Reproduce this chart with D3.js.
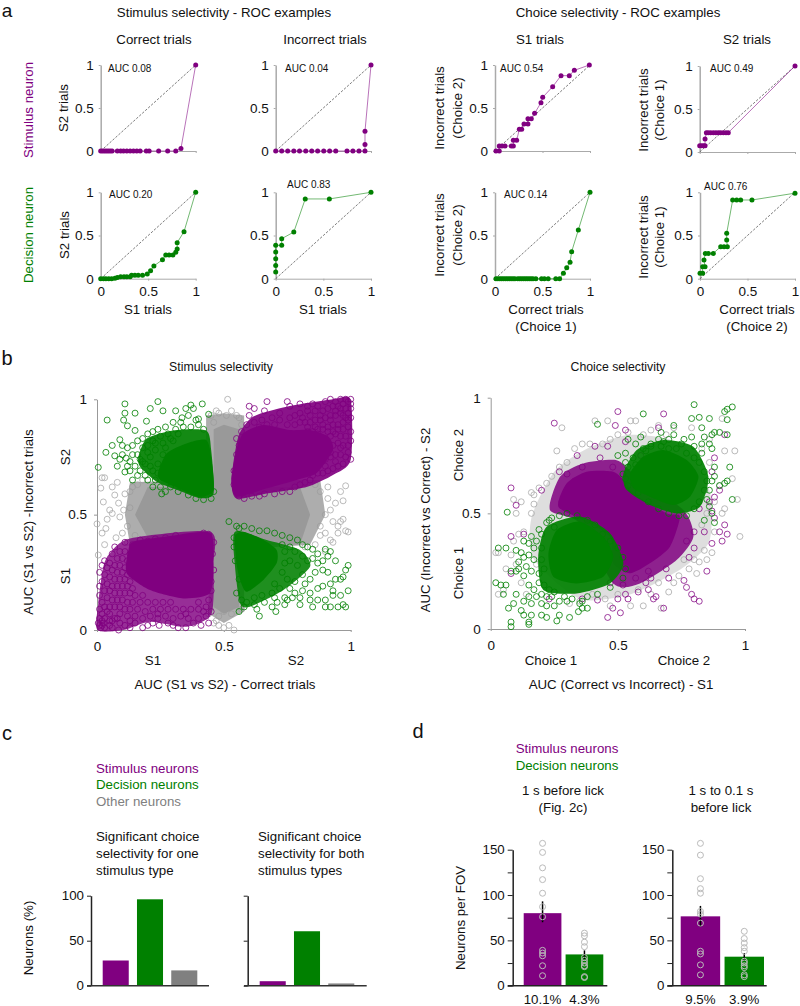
<!DOCTYPE html>
<html>
<head>
<meta charset="utf-8">
<script src="https://cdn.jsdelivr.net/npm/d3@7"></script>
<style>
body { margin: 0; background: #fff; }
svg { display: block; }
text { font-family: "Liberation Sans", Arial, sans-serif; fill: #111; }
</style>
</head>
<body>
<svg width="800" height="1006"></svg>
<script>
var PURPLE = "#800080", GREEN = "#008000", GREY = "#999999";

// panel a: ROC curves
var rocStimCorrect = [[0,0],[.02,0],[.04,0],[.06,0],[.08,0],[.1,0],[.12,0],[.175,0],[.21,0],[.24,0],[.275,0],[.31,0],[.345,0],[.38,0],[.415,0],[.48,0],[.51,0],[.61,0],[.705,0],[.79,0],[.845,.03],[1,1]];
var rocStimIncorrect = [[0,0],[.063,0],[.126,0],[.19,0],[.25,0],[.315,0],[.378,0],[.44,0],[.504,0],[.566,0],[.63,0],[.748,0],[.81,0],[.874,0],[.937,0],[.937,.075],[.937,.23],[1,1]];
var rocDecCorrect = [[0,0],[.03,0],[.055,0],[.085,0],[.115,0],[.15,.004],[.175,.015],[.21,.023],[.245,.023],[.275,.023],[.31,.023],[.325,.039],[.36,.039],[.395,.039],[.44,.039],[.49,.054],[.525,.093],[.56,.147],[.65,.22],[.685,.274],[.72,.274],[.76,.274],[.79,.305],[.805,.344],[.805,.417],[.877,.544],[1,1]];
var rocDecIncorrect = [[0,.077],[0,.154],[0,.23],[0,.31],[0,.386],[.063,.386],[.063,.463],[.19,.54],[.31,.923],[.563,.923],[1,1]];
var rocStimS1 = [[.01,0],[.045,0],[.045,.058],[.073,.058],[.105,.058],[.172,.058],[.193,.058],[.193,.124],[.228,.124],[.256,.252],[.281,.252],[.305,.314],[.347,.314],[.347,.376],[.382,.376],[.417,.438],[.484,.562],[.502,.624],[.607,.748],[.695,.876],[.782,.876],[.835,.938],[.993,1]];
var rocStimS2 = [[0,.074],[.02,.074],[.04,.074],[.056,.074],[.056,.15],[.07,.225],[.09,.225],[.115,.225],[.143,.225],[.17,.225],[.196,.225],[.22,.225],[.248,.225],[.276,.225],[.3,.225],[1,1]];
var rocDecS1 = [[.01,0],[.03,0],[.05,0],[.07,0],[.09,0],[.11,0],[.13,0],[.15,0],[.17,0],[.19,0],[.21,0],[.24,0],[.26,0],[.28,0],[.3,0],[.32,0],[.34,0],[.36,0],[.38,0],[.4,0],[.43,0],[.49,0],[.52,0],[.56,0],[.64,0],[.68,0],[.72,.062],[.755,.127],[.79,.19],[.807,.313],[.877,.564],[1,1]];
var rocDecS2 = [[0,.062],[.028,.062],[.028,.139],[.053,.139],[.042,.216],[.056,.293],[.088,.293],[.14,.293],[.218,.371],[.253,.371],[.288,.371],[.281,.448],[.281,.525],[.344,.911],[.386,.911],[.428,.911],[.547,.911],[1,.99]];

// panel b left: filled regions where the rings merge, then single rings
var stimGreySolid = [[.46,.87],[.5,.89],[.56,.87],[.56,.62],[.8,.62],[.84,.5],[.8,.37],[.56,.37],[.56,.1],[.5,.07],[.46,.1],[.46,.4],[.2,.4],[.15,.5],[.2,.62],[.46,.62]];
var stimGreyHaze = [[.43,.93],[.5,.94],[.58,.93],[.58,.65],[.88,.65],[.9,.5],[.84,.37],[.58,.35],[.58,.08],[.5,.03],[.44,.07],[.44,.37],[.13,.37],[.11,.5],[.13,.64],[.43,.65]];
var stimPurpleURSolid = [[.55,.78],[.577,.853],[.656,.889],[.76,.867],[.84,.867],[.912,.838],[.93,.78],[.866,.68],[.787,.65],[.67,.614],[.55,.578],[.53,.65]];
var stimPurpleURHaze = [[.557,.838],[.616,.925],[.748,.968],[.93,1],[1,.997],[1,.737],[.93,.672],[.826,.62],[.669,.592],[.55,.57],[.53,.65]];
var stimGreenULSolid = [[.24,.68],[.275,.766],[.355,.81],[.43,.824],[.45,.75],[.46,.607],[.405,.578],[.315,.618],[.25,.65]];
var stimGreenULHaze = [[.163,.75],[.196,.83],[.3,.865],[.43,.865],[.45,.78],[.46,.593],[.405,.572],[.315,.608],[.235,.643],[.17,.708]];
var stimPurpleLLSolid = [[.124,.347],[.143,.383],[.275,.405],[.445,.422],[.459,.289],[.445,.159],[.34,.137],[.209,.173],[.117,.246]];
var stimPurpleLLHaze = [[.005,.116],[.025,.275],[.05,.332],[.13,.397],[.445,.426],[.459,.289],[.452,.072],[.353,.014],[.209,.036],[.104,0],[.002,0]];
var stimGreenLRSolid = [[.544,.405],[.577,.426],[.656,.39],[.708,.347],[.708,.289],[.656,.217],[.59,.166],[.564,.217],[.55,.289]];
var stimGreenLRHaze = [[.544,.426],[.669,.39],[.8,.347],[.84,.275],[.735,.173],[.603,.101],[.564,.116],[.544,.275]];

var stimGreyRings = [[.02,.66],[.03,.66],[.015,.615],[.08,.64],[.07,.585],[.025,.555],[0,.46],[.035,.44],[.02,.42],[.075,.4],[.005,.325],[.06,.505],[.04,.48],[.105,.52],[.11,.59],[.13,.6],[.09,.49],[.12,.45],[.1,.42],[.14,.62],[.16,.63],[.18,.65],[.05,.52],[.085,.55],[.13,.53],[.06,.62],[.15,.41],[.12,.38],[.03,.37],
[.98,.625],[.99,.425],[.98,.43],[.92,.39],[.93,.38],[.95,.45],[.96,.47],[.97,.48],[.9,.42],[.88,.41],[.94,.55],[.97,.56],[.96,.6],[.91,.62],[.88,.6],[.9,.5],[.92,.52],[.86,.63],[.84,.65],[.88,.45],[.93,.47],[.82,.36],[.86,.37],[.9,.34],[.95,.42],[.91,.57],
[.515,1],[.47,.95],[.48,.94],[.51,.93],[.55,.93],[.56,.92],[.45,.93],[.53,.95],[.46,.9],[.57,.89],
[.48,.02],[.47,.04],[.5,.01],[.52,.02],[.54,0],[.46,.03],[.48,.06],[.53,.07],[.44,.07],[.5,.08],[.57,.09],[.45,.1],[.55,.12]];

var stimPurpleURRings = [[.6,.97],[.62,.96],[.67,.99],[.66,.95],[.75,.99],[.76,.97],[.72,.94],[.8,.98],[.83,.97],[.85,.98],[.87,.97],[.9,.99],[.92,1],[.94,.99],[.96,1],[.98,1],[1,1],[.99,.99],[1,.98],[.97,.98],[.95,.97],[.93,.97],[.91,.96],[.89,.95],[.86,.95],[.83,.95],[.8,.94],[.78,.93],[.76,.92],[.72,.91],[.69,.92],[.65,.91],[.62,.9],[.59,.89],[.57,.86],[.55,.83],[.56,.8],[.6,.93],
[1,.96],[.99,.94],[1,.92],[.98,.92],[.96,.94],[.94,.93],[.92,.93],[.9,.92],[.88,.91],[.86,.91],[.84,.9],[.82,.9],[.8,.9],[.97,.9],[.99,.88],[1,.86],[.97,.87],[.95,.89],[.93,.89],[.91,.88],[.89,.87],[.87,.87],[.85,.86],[.83,.86],[.98,.84],[1,.82],[.96,.84],[.94,.85],[.92,.84],[.9,.83],[.88,.82],[.86,.81],[.99,.8],[.97,.8],[.95,.81],[.93,.8],[.91,.79],[.89,.78],[.87,.77],[1,.74],[.98,.75],[.99,.77],[.96,.76],[.94,.76],[.92,.75],[.9,.74],[.88,.73],[.86,.72],[.97,.72],[.95,.71],[.93,.7],[.91,.69],[.89,.68],[.87,.68],[.85,.67],[.84,.65],[.82,.64],[.8,.63],[.78,.62],[.76,.6],[.73,.6],[.7,.59],[.66,.59],[.64,.58],[.61,.58],[.58,.57],[.56,.58],[.55,.6],[.54,.63],[.55,.66],[.54,.69],[.56,.72],[.55,.76],
[.98,.96],[.96,.96],[.94,.95],[.92,.91],[.88,.93],[.84,.93],[.81,.92],[.99,.91],[.97,.93],[.89,.89],[.86,.88],[.83,.88],[.95,.87],[.93,.86],[.91,.86],[.96,.79],[.92,.77],[.85,.83],[.87,.85],[.89,.8],[.94,.73],[.9,.71],[.86,.7],[.82,.84],[.78,.89],[.75,.89],[.7,.89],[.67,.89],[.64,.88]];

var stimGreenULRings = [[.11,.98],[.24,.99],[.21,.96],[.26,.95],[.31,.95],[.37,.975],[.415,.98],[.35,.96],[.11,.94],[.15,.94],[.105,.91],[.12,.885],[.15,.865],[.04,.91],[.195,.905],[.335,.92],[.4,.915],[.44,.935],[.06,.8],[.09,.825],[.005,.705],[.035,.77],[.07,.755],[.115,.745],[.08,.71],[.11,.685],[.14,.65],[.255,.59],
[.36,.93],[.39,.91],[.38,.96],[.33,.9],[.3,.9],[.27,.88],[.24,.87],[.22,.86],[.2,.85],[.18,.83],[.16,.82],[.14,.8],[.12,.79],[.1,.8],[.1,.76],[.13,.73],[.15,.71],[.12,.71],[.16,.76],[.18,.79],[.2,.8],[.22,.82],[.25,.84],[.28,.85],[.31,.87],[.34,.88],[.37,.88],[.4,.89],[.42,.87],
[.17,.69],[.19,.72],[.21,.75],[.23,.78],[.26,.81],[.29,.83],[.32,.85],[.19,.67],[.22,.69],[.24,.72],[.16,.67],[.2,.65],[.23,.65],[.26,.66],[.29,.62],[.32,.6],[.36,.585],[.39,.57],[.42,.565],[.45,.57],[.46,.6],[.25,.62],[.27,.6],[.22,.62],[.18,.73],[.14,.76],[.17,.74],[.2,.77],[.23,.81],[.27,.79],[.3,.82],[.21,.71],[.13,.69],[.09,.74],[.27,.7],[.24,.68],[.26,.76]];

var stimPurpleLLRings = [[.01,.02],[.015,.01],[.02,.02],[.005,.03],[.025,.03],[.01,.05],[.03,.01],[.03,.05],[.05,.02],[.06,.01],[.085,0],[.09,.03],[.11,.02],[.13,.01],[.15,.03],[.18,.01],[.2,.02],[.22,.03],[.245,.02],[.28,.03],[.3,.02],[.32,.01],[.35,.01],[.38,.03],[.41,.02],[.44,.03],[.43,.06],[.4,.05],[.36,.05],[.33,.06],[.3,.05],[.27,.06],[.24,.05],[.21,.06],[.18,.05],[.15,.06],[.12,.06],[.09,.07],[.07,.05],[.05,.07],[.02,.07],[.01,.09],[.03,.1],[.05,.1],[.07,.1],[.09,.1],[.11,.09],[.13,.09],[.16,.09],[.19,.08],[.22,.09],[.25,.09],[.28,.09],[.31,.09],[.34,.09],[.37,.09],[.4,.09],[.43,.1],[.45,.08],
[.02,.12],[.01,.15],[.04,.14],[.06,.13],[.08,.13],[.1,.13],[.12,.12],[.14,.12],[.17,.12],[.2,.12],[.23,.12],[.26,.12],[.29,.12],[.4,.12],[.44,.13],[.45,.17],[.03,.17],[.05,.17],[.07,.16],[.09,.16],[.11,.16],[.13,.16],[.15,.15],[.18,.15],[.01,.19],[.02,.21],[.04,.2],[.06,.19],[.08,.19],[.1,.19],[.12,.19],[.14,.18],[.03,.24],[.05,.23],[.07,.22],[.09,.22],[.11,.22],[.13,.21],[.01,.25],[.02,.28],[.04,.27],[.06,.26],[.08,.25],[.1,.25],[.12,.24],[.03,.3],[.05,.29],[.07,.28],[.09,.28],[.11,.27],[.13,.27],[.06,.33],[.08,.31],[.1,.31],[.12,.3],[.14,.3],[.07,.36],[.09,.34],[.11,.34],[.13,.33],[.11,.38],[.14,.37],[.17,.39],[.2,.385],[.23,.395],[.27,.4],[.31,.41],[.35,.4],[.39,.405],[.42,.42],[.44,.415],[.46,.38],[.455,.33],[.46,.26],[.45,.21],[.16,.35],[.17,.31],[.15,.26],[.18,.22],[.05,.04],[.13,.04],[.24,.07],[.35,.07],[.42,.08],[.02,.04],[.04,.08],[.06,.04],[.08,.05]];

var stimGreenLRRings = [[.52,.47],[.55,.45],[.56,.44],[.54,.4],[.64,.06],[.705,.08],[.56,.08],[.58,.1],[.63,.09],[.69,.1],[.71,.12],[.74,.11],[.75,.13],[.8,.11],[.85,.1],[.9,.1],[.92,.1],[.95,.1],[.97,.11],[.98,.1],[.9,.13],[.87,.13],[.84,.13],[.8,.14],[.77,.14],[.93,.15],[.96,.15],[.99,.17],[.98,.26],[.99,.28],[.97,.23],[.94,.22],[.96,.22],[.92,.2],[.93,.17],[.89,.19],[.87,.18],[.84,.16],[.81,.17],[.78,.16],[.74,.14],[.7,.14],[.66,.12],[.62,.11],[.59,.12],
[.91,.32],[.92,.34],[.9,.35],[.94,.3],[.89,.3],[.87,.33],[.85,.35],[.83,.36],[.81,.37],[.79,.39],[.76,.4],[.73,.41],[.7,.42],[.67,.43],[.64,.43],[.61,.44],[.58,.45],[.85,.31],[.87,.29],[.89,.26],[.91,.25],[.86,.25],[.83,.3],[.81,.32],[.78,.34],[.76,.36],[.73,.37],[.84,.22],[.81,.24],[.82,.2],[.79,.28],[.76,.3],[.74,.34],[.78,.21],[.75,.22],[.76,.18],[.72,.18],[.73,.25],[.74,.29],[.69,.16],[.65,.15],[.62,.14],[.7,.2],[.57,.13],[.55,.16],[.56,.22],[.545,.3],[.54,.36]];

// panel b right
var choiceGreyHaze = [[.16,.48],[.25,.68],[.38,.78],[.55,.84],[.75,.8],[.86,.6],[.86,.38],[.75,.26],[.55,.15],[.35,.13],[.17,.3]];
var choicePurpleSolid = [[.266,.529],[.299,.63],[.377,.68],[.482,.68],[.535,.63],[.561,.586],[.692,.5],[.744,.486],[.705,.356],[.626,.284],[.548,.241],[.482,.284],[.469,.399],[.364,.471]];
var choicePurpleHaze = [[.233,.514],[.273,.659],[.364,.716],[.495,.73],[.561,.673],[.758,.514],[.797,.399],[.731,.298],[.587,.197],[.482,.197],[.351,.457]];
var choiceGreenLowSolid = [[.227,.327],[.26,.428],[.351,.464],[.443,.399],[.482,.313],[.443,.226],[.338,.197],[.246,.226]];
var choiceGreenLowHaze = [[.187,.313],[.22,.442],[.351,.486],[.469,.414],[.522,.284],[.469,.197],[.338,.154],[.207,.169]];
var choiceGreenUpSolid = [[.548,.673],[.6,.745],[.679,.774],[.771,.731],[.817,.659],[.784,.572],[.718,.536],[.626,.572],[.561,.608]];
var choiceGreenUpHaze = [[.522,.673],[.574,.774],[.679,.817],[.797,.788],[.856,.659],[.823,.529],[.731,.5],[.626,.536],[.535,.601]];

var choiceGreyRings = [[.03,.33],[.02,.33],[.1,.5],[.09,.56],[.12,.55],[.16,.59],[.17,.58],[.19,.61],[.22,.63],[.24,.66],[.27,.7],[.3,.72],[.33,.78],[.36,.8],[.39,.8],[.41,.9],[.28,.87],[.26,.77],[.17,.54],[.16,.5],[.13,.42],[.11,.41],[.09,.38],[.08,.32],[.06,.26],[.05,.17],[.03,.15],[.12,.2],[.14,.15],[.1,.28],[.18,.28],
[.46,.9],[.55,.9],[.57,.9],[.6,.84],[.63,.86],[.66,.88],[.69,.84],[.72,.87],[.79,.87],[.54,.85],[.5,.84],[.47,.82],[.44,.8],
[.91,.91],[.86,.82],[.92,.77],[.96,.77],[.95,.65],[.9,.62],[.97,.56],[.92,.52],[.91,.5],[.98,.4],[.88,.42],[.87,.33],[.82,.29],[.81,.24],[.84,.34],[.85,.3],[.8,.3],[.78,.26],[.74,.23],[.72,.2],[.7,.16],[.67,.09],[.6,.1],[.55,.1],[.5,.15],[.45,.13],[.4,.15],[.35,.12],[.31,.11],[.47,.1],[.52,.2],[.58,.17],[.63,.15],[.66,.2],[.76,.3],[.83,.45],[.85,.5],[.88,.55],[.86,.72],[.83,.78]];

var choicePurpleRings = [[.25,.89],[.5,.94],[.68,.93],[.49,.88],[.53,.86],[.66,.87],[.46,.79],[.34,.75],[.41,.79],[.27,.68],[.2,.6],[.08,.61],[.1,.535],[.08,.4],[.13,.41],[.08,.24],[.23,.13],[.36,.13],[.42,.125],[.47,.2],[.46,.05],[.51,.07],[.48,.09],[.5,.13],[.53,.15],[.54,.13],[.58,.16],[.62,.17],[.61,.2],[.63,.22],[.64,.13],[.65,.14],[.68,.09],[.76,.21],[.77,.18],[.8,.13],[.82,.12],[.79,.15],[.78,.31],[.85,.25],[.87,.37],[.91,.38],[.93,.41],[.9,.42],[.88,.48],[.87,.51],[.92,.45],[.88,.57],[.9,.6],[.86,.55],[.87,.68],[.88,.74],[.92,.84],[.53,.81],[.59,.75],[.48,.7],[.43,.74],[.36,.7],[.33,.64],[.28,.55],[.3,.67],[.73,.68],[.7,.22],[.69,.26],[.62,.25],[.57,.22],[.52,.19],[.8,.42],[.82,.52],[.84,.42],[.77,.38],[.8,.35]];

var choiceGreenRings = [[.8,.97],[.6,.93],[.95,.96],[.93,.95],[.92,.94],[.93,.905],[.42,.885],[.72,.88],[.79,.91],[.82,.915],[.83,.87],[.86,.91],[.93,.84],[.9,.85],[.88,.85],[.87,.84],[.84,.83],[.86,.8],[.87,.78],[.83,.8],[.94,.7],[.93,.64],[.92,.63],[.95,.56],[.88,.66],[.87,.64],[.9,.62],[.86,.6],[.87,.5],[.88,.46],[.84,.47],[.86,.53],[.85,.56],[.88,.7],[.79,.83],[.76,.82],[.72,.84],[.7,.82],[.67,.85],[.66,.82],[.63,.8],[.59,.83],[.54,.82],[.53,.76],[.5,.75],[.53,.72],[.57,.8],
[.065,.505],[.03,.35],[.06,.35],[.02,.2],[.04,.19],[.06,.19],[.05,.15],[.1,.25],[.08,.25],[.09,.11],[.07,.09],[.12,.08],[.13,.06],[.15,.03],[.16,.06],[.2,.06],[.22,.05],[.26,.035],[.27,.06],[.31,.05],[.345,.075],[.36,.09],[.38,.09],[.35,.11],[.08,.03],[.08,.01],[.15,.02],[.1,.15],[.13,.12],[.1,.34],[.12,.33],[.13,.31],[.15,.32],[.11,.26],[.13,.23],[.15,.19],[.17,.17],[.16,.11],[.15,.14],[.2,.11],[.22,.1],[.25,.1],[.27,.12],[.3,.12],[.32,.13],[.36,.12],[.18,.14],[.2,.15],[.22,.14],[.24,.14],[.14,.27],[.16,.25],[.17,.3],[.17,.35],[.16,.4],[.18,.38],[.2,.41],[.19,.43],[.22,.46],[.24,.48],[.15,.37],[.13,.38],[.11,.29],[.19,.2],[.19,.24],[.2,.35],[.2,.3],[.21,.26],[.21,.19],[.25,.44],[.23,.47],[.27,.49],[.3,.5],[.34,.49],[.38,.47],[.41,.45],[.44,.41],[.47,.38],[.5,.35],[.52,.31],[.53,.26],[.52,.22],[.47,.18],[.42,.15],[.38,.14],[.29,.14],[.25,.16],[.23,.17],
[.52,.67],[.54,.7],[.56,.74],[.6,.78],[.63,.79],[.67,.79],[.7,.78],[.73,.78],[.77,.76],[.8,.74],[.82,.72],[.84,.68],[.85,.64],[.84,.6],[.82,.55],[.8,.52],[.77,.49],[.74,.49],[.7,.5],[.66,.52],[.62,.55],[.58,.59],[.54,.62],[.53,.65],[.83,.76],[.8,.79],[.75,.8],[.68,.81],[.61,.77],[.57,.71]];

// panel c
var cCategories = ["Stimulus neurons", "Decision neurons", "Other neurons"];
var cColors = [PURPLE, GREEN, "#808080"];
var cOneType = [28, 96, 17];
var cBothTypes = [5, 60.5, 2.5];
var cTitleOne = ["Significant choice", "selectivity for one", "stimulus type"];
var cTitleBoth = ["Significant choice", "selectivity for both", "stimulus types"];

// panel d
var dBefore = [80, 34.5];
var dWindow = [76.5, 32];
var dBeforeErr = [[70, 93], [29, 39]];
var dWindowErr = [[65, 88], [28, 36]];
var dBeforePts = [[157,147,130,117,102,87,76,39,36,33,22,11], [58,55,48,43,31,28,25,22,21,10,9]];
var dWindowPts = [[157,144,118,107,102,82,79,69,38,35,23,12], [60,52,47,42,38,27,25,22,20,12,10]];
var dBeforePct = ["10.1%", "4.3%"];
var dWindowPct = ["9.5%", "3.9%"];

var svg = d3.select("svg");

function label(str, x, y, opt) {
  opt = opt || {};
  var t = svg.append("text")
      .attr("x", x).attr("y", y)
      .attr("dy", ".35em")
      .attr("text-anchor", opt.anchor || "middle")
      .style("font-size", (opt.size || 13.3) + "px")
      .text(str);
  if (opt.color) t.style("fill", opt.color);
  if (opt.rotate) t.attr("transform", "rotate(-90 " + x + " " + y + ")");
  return t;
}

function styleAxis(g, color, width, size) {
  g.selectAll(".domain").attr("stroke", color).attr("stroke-width", width);
  g.selectAll(".tick line").attr("stroke", color);
  g.selectAll("text").style("font-size", (size || 13.5) + "px")
      .style("font-family", '"Liberation Sans", Arial, sans-serif').attr("fill", "#111");
}

function unitFormat(d) { return d === 0.5 ? "0.5" : String(d); }

function rocPlot(pts, color, x0, x1, y0, y1, showX) {
  var x = d3.scaleLinear().domain([0, 1]).range([x0, x1]);
  var y = d3.scaleLinear().domain([0, 1]).range([y0, y1]);
  var gx = svg.append("g").attr("transform", "translate(0," + y0 + ")")
      .call(d3.axisBottom(x).tickValues([0, .5, 1]).tickFormat(showX ? unitFormat : "").tickSize(2).tickSizeOuter(0).tickPadding(6));
  styleAxis(gx, "#aaa", 1);
  var gy = svg.append("g").attr("transform", "translate(" + x0 + ",0)")
      .call(d3.axisLeft(y).tickValues([0, .5, 1]).tickFormat(unitFormat).tickSize(2).tickSizeOuter(0).tickPadding(5));
  styleAxis(gy, "#aaa", 1.5);
  svg.append("line")
      .attr("x1", x(0)).attr("y1", y(0)).attr("x2", x(1)).attr("y2", y(1))
      .attr("stroke", "#444").attr("stroke-width", .7).attr("stroke-dasharray", "2.5,1.5");
  var line = d3.line().x(function(d) { return x(d[0]); }).y(function(d) { return y(d[1]); });
  svg.append("path").attr("d", line(pts)).attr("fill", "none")
      .attr("stroke", color).attr("stroke-opacity", .55).attr("stroke-width", 1);
  svg.append("g").selectAll("circle").data(pts).enter().append("circle")
      .attr("cx", function(d) { return x(d[0]); })
      .attr("cy", function(d) { return y(d[1]); })
      .attr("r", 2.5).attr("fill", color);
}

function region(g, line, pts, color, op) {
  g.append("path").attr("d", line(pts)).attr("fill", color).attr("fill-opacity", op);
}

function rings(g, x, y, pts, color, op) {
  g.append("g").selectAll("circle").data(pts).enter().append("circle")
      .attr("cx", function(d) { return x(d[0]); })
      .attr("cy", function(d) { return y(d[1]); })
      .attr("r", 3).attr("fill", "none")
      .attr("stroke", color).attr("stroke-opacity", op).attr("stroke-width", 1);
}

function scatterFrame(x0, x1, y0, y1) {
  var x = d3.scaleLinear().domain([0, 1]).range([x0, x1]);
  var y = d3.scaleLinear().domain([0, 1]).range([y0, y1]);
  var gx = svg.append("g").attr("transform", "translate(0," + y0 + ")")
      .call(d3.axisBottom(x).tickValues([0, .5, 1]).tickFormat(unitFormat).tickSize(2).tickSizeOuter(0).tickPadding(9));
  styleAxis(gx, "#999", 1);
  var gy = svg.append("g").attr("transform", "translate(" + x0 + ",0)")
      .call(d3.axisLeft(y).tickValues([0, .5, 1]).tickFormat(unitFormat).tickSize(3).tickSizeOuter(0).tickPadding(7));
  styleAxis(gy, "#999", 1);
  return {x: x, y: y, g: svg.append("g")};
}

// ---- panel a
label("a", 7, 10, {size: 19});
label("Stimulus selectivity - ROC examples", 224, 12);
label("Choice selectivity - ROC examples", 618, 12);
label("Correct trials", 154, 39);
label("Incorrect trials", 325, 39);
label("S1 trials", 540, 39);
label("S2 trials", 747, 39);
label("Stimulus neuron", 28, 110, {rotate: true, color: PURPLE});
label("Decision neuron", 28, 235, {rotate: true, color: GREEN});

rocPlot(rocStimCorrect, PURPLE, 100.7, 195.7, 151, 65, false);
rocPlot(rocStimIncorrect, PURPLE, 275.7, 371, 151, 65, false);
rocPlot(rocStimS1, PURPLE, 495, 590, 151, 65, false);
rocPlot(rocStimS2, PURPLE, 699.7, 795, 152, 66, false);
rocPlot(rocDecCorrect, GREEN, 100.7, 195.7, 278.7, 192.3, true);
rocPlot(rocDecIncorrect, GREEN, 275.7, 371, 278.7, 192.3, true);
rocPlot(rocDecS1, GREEN, 495, 590, 278.7, 192.3, true);
rocPlot(rocDecS2, GREEN, 700, 795, 278.7, 192.3, true);

label("AUC 0.08", 108, 68, {anchor: "start", size: 10});
label("AUC 0.04", 285, 68, {anchor: "start", size: 10});
label("AUC 0.54", 500, 68, {anchor: "start", size: 10});
label("AUC 0.49", 710, 68, {anchor: "start", size: 10});
label("AUC 0.20", 109, 194, {anchor: "start", size: 10});
label("AUC 0.83", 287, 184, {anchor: "start", size: 10});
label("AUC 0.14", 504, 194, {anchor: "start", size: 10});
label("AUC 0.76", 704, 186, {anchor: "start", size: 10});

label("S2 trials", 63, 108, {rotate: true});
label("S2 trials", 64, 235, {rotate: true});
label("Incorrect trials", 439, 108, {rotate: true});
label("(Choice 2)", 457, 108, {rotate: true});
label("Incorrect trials", 643, 110, {rotate: true});
label("(Choice 1)", 659, 110, {rotate: true});
label("Incorrect trials", 439, 235, {rotate: true});
label("(Choice 2)", 457, 235, {rotate: true});
label("Incorrect trials", 643, 237, {rotate: true});
label("(Choice 1)", 659, 237, {rotate: true});
label("S1 trials", 148, 309);
label("S1 trials", 323, 309);
label("Correct trials", 546, 309);
label("(Choice 1)", 546, 326);
label("Correct trials", 757, 309);
label("(Choice 2)", 757, 326);

// ---- panel b
label("b", 7, 358, {size: 20});
label("Stimulus selectivity", 221, 367, {size: 12.3});
label("Choice selectivity", 618, 367, {size: 12.3});

var left = scatterFrame(97, 350.7, 630, 399.3);
var leftStraight = d3.line()
    .x(function(d) { return left.x(d[0]); })
    .y(function(d) { return left.y(d[1]); })
    .curve(d3.curveLinearClosed);
var leftLine = d3.line()
    .x(function(d) { return left.x(d[0]); })
    .y(function(d) { return left.y(d[1]); })
    .curve(d3.curveCardinalClosed.tension(.3));
rings(left.g, left.x, left.y, stimGreyRings, "#aaa", .8);
region(left.g, leftStraight, stimGreyHaze, GREY, .8);
region(left.g, leftStraight, stimGreySolid, GREY, 1);
region(left.g, leftLine, stimPurpleURHaze, PURPLE, .92);
region(left.g, leftLine, stimPurpleLLHaze, PURPLE, .82);
region(left.g, leftLine, stimGreenULHaze, GREEN, .92);
region(left.g, leftLine, stimGreenLRHaze, GREEN, .88);
rings(left.g, left.x, left.y, stimPurpleURRings, PURPLE, .8);
rings(left.g, left.x, left.y, stimPurpleLLRings, PURPLE, .8);
region(left.g, leftLine, stimPurpleURSolid, PURPLE, 1);
region(left.g, leftLine, stimPurpleLLSolid, PURPLE, 1);
rings(left.g, left.x, left.y, stimGreenULRings, GREEN, .8);
rings(left.g, left.x, left.y, stimGreenLRRings, GREEN, .8);
region(left.g, leftLine, stimGreenULSolid, GREEN, 1);
region(left.g, leftLine, stimGreenLRSolid, GREEN, 1);

label("S1", 153, 660);
label("S2", 296, 660);
label("AUC (S1 vs S2) - Correct trials", 225, 684);
label("AUC (S1 vs S2) -Incorrect trials", 28, 522, {rotate: true});
label("S2", 65, 457, {rotate: true});
label("S1", 65, 576, {rotate: true});

var right = scatterFrame(490.7, 745, 629, 397.7);
var rightLine = d3.line()
    .x(function(d) { return right.x(d[0]); })
    .y(function(d) { return right.y(d[1]); })
    .curve(d3.curveCardinalClosed.tension(.3));
region(right.g, rightLine, choiceGreyHaze, "#b5b5b5", .45);
rings(right.g, right.x, right.y, choiceGreyRings, "#aaa", .8);
region(right.g, rightLine, choicePurpleHaze, PURPLE, .85);
rings(right.g, right.x, right.y, choicePurpleRings, PURPLE, .75);
region(right.g, rightLine, choicePurpleSolid, PURPLE, 1);
region(right.g, rightLine, choiceGreenLowHaze, GREEN, .92);
region(right.g, rightLine, choiceGreenUpHaze, GREEN, .92);
rings(right.g, right.x, right.y, choiceGreenRings, GREEN, .8);
region(right.g, rightLine, choiceGreenLowSolid, GREEN, 1);
region(right.g, rightLine, choiceGreenUpSolid, GREEN, 1);

label("Choice 1", 551, 660);
label("Choice 2", 684, 660);
label("AUC (Correct vs Incorrect) - S1", 621, 684);
label("AUC (Incorrect vs Correct) - S2", 425, 520, {rotate: true});
label("Choice 2", 458, 455, {rotate: true});
label("Choice 1", 458, 573, {rotate: true});

// ---- panel c
label("c", 7, 733, {size: 20});
cCategories.forEach(function(c, i) {
  label(c, 96, 768 + i * 16.5, {anchor: "start", color: i === 2 ? "#808080" : cColors[i]});
});
cTitleOne.forEach(function(s, i) { label(s, 96, 836 + i * 17, {anchor: "start"}); });
cTitleBoth.forEach(function(s, i) { label(s, 258, 836 + i * 17, {anchor: "start"}); });

function barsC(vals, axisX, bandX0, bandX1, baseX0, baseX1, showLabels) {
  var y = d3.scaleLinear().domain([0, 100]).range([985.7, 895.7]);
  var x = d3.scaleBand().domain(cCategories).range([bandX0, bandX1]).paddingInner(.24);
  svg.append("g").selectAll("rect").data(vals).enter().append("rect")
      .attr("x", function(d, i) { return x(cCategories[i]); })
      .attr("y", function(d) { return y(d); })
      .attr("width", x.bandwidth())
      .attr("height", function(d) { return y(0) - y(d); })
      .attr("fill", function(d, i) { return cColors[i]; });
  var gy = svg.append("g").attr("transform", "translate(" + axisX + ",0)")
      .call(d3.axisLeft(y).tickValues([0, 50, 100]).tickFormat(showLabels ? d3.format("d") : "").tickSize(4).tickSizeOuter(0).tickPadding(3));
  styleAxis(gy, "#222", 1.5, 13.3);
  var bx = d3.scaleLinear().domain([0, 1]).range([baseX0, baseX1]);
  svg.append("line").attr("x1", bx(0)).attr("x2", bx(1)).attr("y1", y(0)).attr("y2", y(0))
      .attr("stroke", "#333").attr("stroke-width", 1.5);
}
barsC(cOneType, 91, 102.7, 197.3, 87, 209, true);
barsC(cBothTypes, 247.7, 259.7, 354.3, 244, 366.7, false);
label("Neurons (%)", 28, 938, {rotate: true});

// ---- panel d
label("d", 418, 731, {size: 20});
label("Stimulus neurons", 567, 748, {color: PURPLE});
label("Decision neurons", 567, 765, {color: GREEN});
label("1 s before lick", 563, 790);
label("(Fig. 2c)", 563, 807);
label("1 s to 0.1 s", 721, 790);
label("before lick", 721, 807);

function barsD(vals, errs, pts, pct, axisX, bandX0, bandX1, baseX1) {
  var y = d3.scaleLinear().domain([0, 150]).range([985.7, 849.7]);
  var names = ["Stimulus", "Decision"];
  var x = d3.scaleBand().domain(names).range([bandX0, bandX1]).paddingInner(.1);
  var colors = [PURPLE, GREEN];
  svg.append("g").selectAll("rect").data(vals).enter().append("rect")
      .attr("x", function(d, i) { return x(names[i]); })
      .attr("y", function(d) { return y(d); })
      .attr("width", x.bandwidth())
      .attr("height", function(d) { return y(0) - y(d); })
      .attr("fill", function(d, i) { return colors[i]; });
  var gy = svg.append("g").attr("transform", "translate(" + axisX + ",0)")
      .call(d3.axisLeft(y).tickValues([0, 25, 50, 75, 100, 125, 150])
        .tickFormat(function(d) { return d % 50 === 0 ? d : ""; })
        .tickSize(5).tickSizeOuter(0).tickPadding(3));
  styleAxis(gy, "#222", 1.5, 13.3);
  svg.append("line").attr("x1", axisX - 5).attr("x2", baseX1).attr("y1", y(0)).attr("y2", y(0))
      .attr("stroke", "#222").attr("stroke-width", 1.5);
  names.forEach(function(n, i) {
    var cx = x(n) + x.bandwidth() / 2;
    svg.append("line").attr("x1", cx).attr("x2", cx).attr("y1", y(errs[i][0])).attr("y2", y(errs[i][1]))
        .attr("stroke", "#000").attr("stroke-width", 1.5);
    svg.append("g").selectAll("circle").data(pts[i]).enter().append("circle")
        .attr("cx", cx).attr("cy", function(d) { return y(d); })
        .attr("r", 3).attr("fill", "none").attr("stroke", "#bbb").attr("stroke-width", 1);
    label(pct[i], cx, 999);
  });
}
barsD(dBefore, dBeforeErr, dBeforePts, dBeforePct, 512.7, 523.7, 603.3, 607.3);
barsD(dWindow, dWindowErr, dWindowPts, dWindowPct, 672.3, 680.7, 764, 766.7);
label("Neurons per FOV", 460, 918, {rotate: true});
</script>
</body>
</html>
